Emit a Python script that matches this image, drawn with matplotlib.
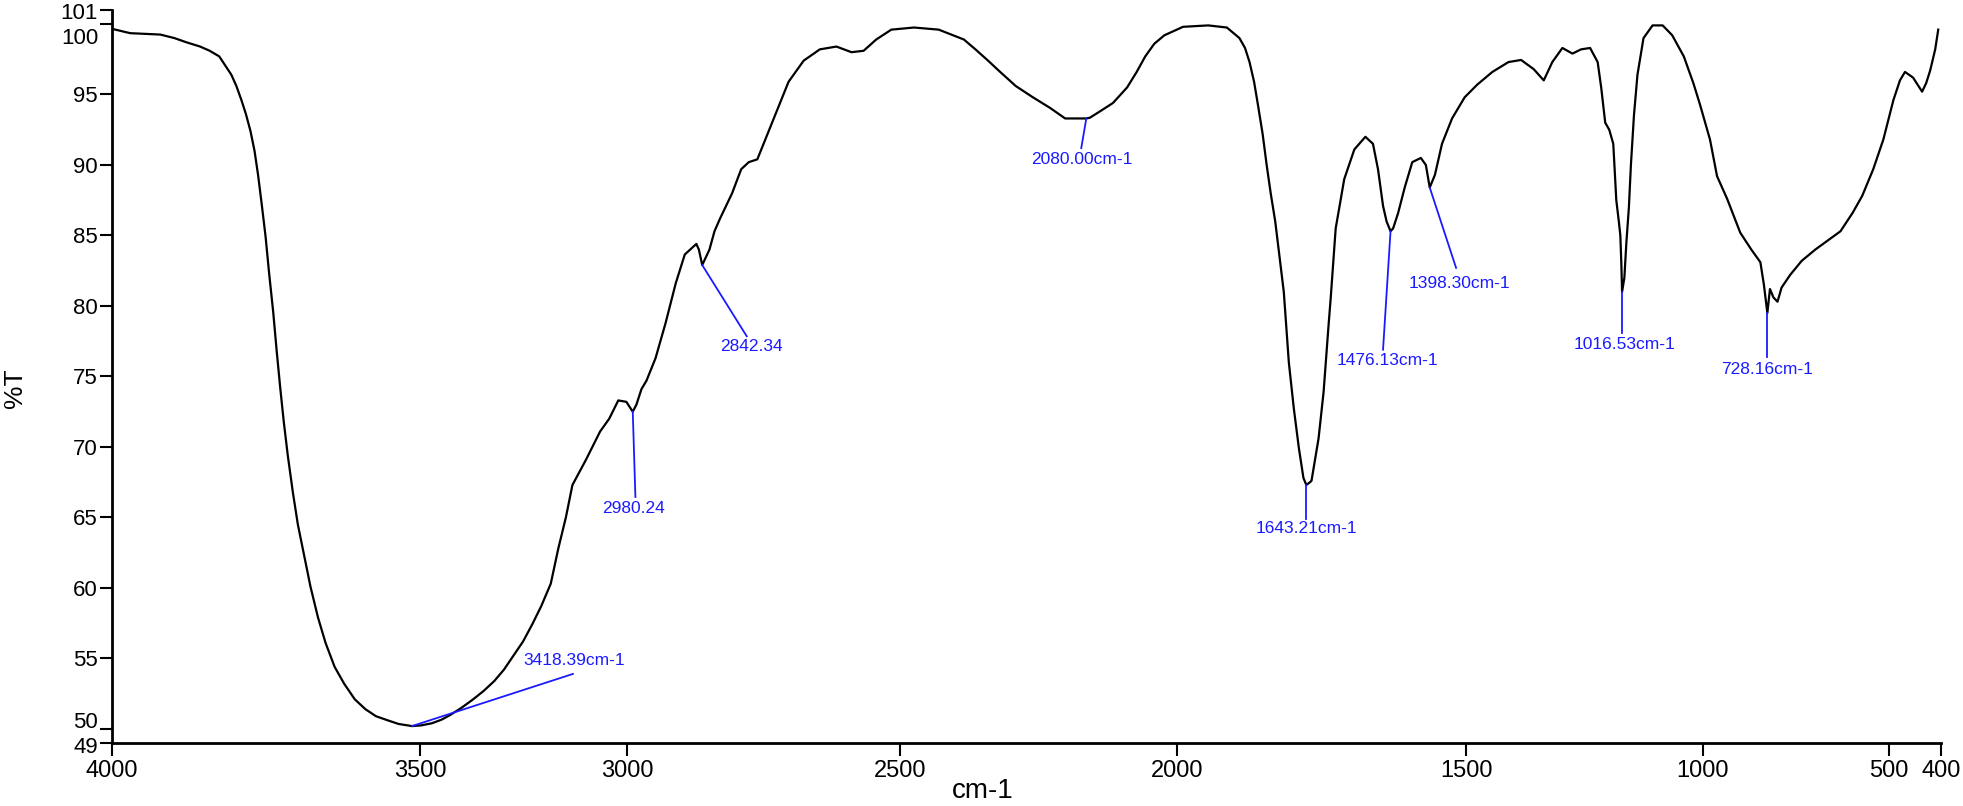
import matplotlib
matplotlib.use("Agg")
import matplotlib.pyplot as plt
import matplotlib.transforms as mtransforms

# ---------------- data ----------------
wavenumber = [4013, 3978, 3918, 3890, 3866, 3839, 3820, 3801, 3790, 3777, 3767, 3757, 3748, 3739,
              3731, 3724, 3717, 3709, 3702, 3694, 3687, 3680, 3673, 3665, 3655, 3645, 3632, 3620,
              3605, 3590, 3572, 3553, 3532, 3511, 3490, 3466, 3445, 3418.39, 3400, 3379, 3360, 3342,
              3320, 3297, 3276, 3255, 3236, 3217, 3198, 3180, 3162, 3143, 3128, 3113, 3100, 3073,
              3059, 3045, 3027, 3009, 2993, 2980.24, 2973, 2963, 2953, 2935, 2915,
              2895, 2877, 2854, 2849, 2842.34, 2828, 2818, 2807, 2783, 2765, 2750, 2733, 2715, 2696,
              2671, 2641, 2609, 2576, 2546, 2522, 2497, 2467, 2422, 2373, 2323, 2300, 2275, 2251,
              2220, 2186, 2152, 2122, 2080.00, 2073, 2053, 2027, 1999, 1980, 1963, 1945, 1925, 1888,
              1838, 1801, 1776, 1765, 1756, 1747, 1739, 1730, 1722, 1714, 1705, 1688, 1678, 1668,
              1658, 1649, 1643.21, 1636, 1633, 1619, 1609, 1599,
              1595, 1585, 1568, 1548, 1526, 1511, 1501, 1491, 1484, 1476.13, 1471, 1461, 1448, 1433,
              1416, 1406, 1398.30, 1388, 1374, 1354, 1329, 1304, 1274, 1242, 1217, 1192, 1172, 1155,
              1135, 1115, 1098, 1080, 1065, 1058, 1050, 1042, 1034, 1028, 1023, 1020, 1018, 1016.53,
              1012, 1008, 1003, 999, 993, 986, 974, 956, 936, 917, 894, 875, 862, 842, 828, 808, 782,
              760, 742, 735, 728.16, 723, 716, 708, 700, 683, 660, 633, 583, 559, 540, 518, 498, 478,
              465, 455, 447, 439, 430, 421, 413, 405, 395, 389]
transmittance = [99.65, 99.35, 99.25, 99.0, 98.7, 98.4, 98.1, 97.7, 97.1, 96.4, 95.6, 94.6, 93.6, 92.4,
                 91.0, 89.3, 87.3, 84.9, 82.3, 79.6, 76.8, 74.2, 71.8, 69.4, 66.8, 64.5, 62.2, 60.1,
                 57.9, 56.1, 54.4, 53.2, 52.1, 51.4, 50.9, 50.6, 50.35, 50.2, 50.25, 50.4, 50.65, 51.0,
                 51.5, 52.1, 52.7, 53.4, 54.2, 55.2, 56.2, 57.4, 58.7, 60.3, 62.8, 65.0, 67.3, 69.1,
                 70.1, 71.1, 72.0, 73.3, 73.2, 72.5, 73.0, 74.1, 74.7, 76.3, 78.8,
                 81.6, 83.65, 84.4, 84.0, 82.9, 84.0, 85.3, 86.2, 88.0, 89.7, 90.2, 90.4, 92.0, 93.7,
                 95.9, 97.4, 98.2, 98.4, 98.0, 98.1, 98.9, 99.6, 99.75, 99.6, 98.9, 98.2, 97.4, 96.6,
                 95.6, 94.8, 94.05, 93.3, 93.3, 93.35, 93.8, 94.4, 95.5, 96.6, 97.7, 98.6, 99.2, 99.8,
                 99.9, 99.75, 99.0, 98.3, 97.3, 95.9, 94.2, 92.2, 90.0, 88.0, 86.0, 81.0, 76.0, 72.7,
                 69.9, 67.8, 67.3, 67.5, 67.6, 70.6, 73.9, 78.7,
                 80.5, 85.5, 89.0, 91.1, 92.0, 91.5, 89.7, 87.1, 86.0, 85.3, 85.5, 86.6, 88.4, 90.2,
                 90.5, 90.0, 88.4, 89.3, 91.5, 93.3, 94.8, 95.7, 96.6, 97.3, 97.45, 96.8, 96.0, 97.3,
                 98.3, 97.9, 98.2, 98.3, 97.3, 95.5, 93.0, 92.5, 91.5, 87.5, 86.0, 85.0, 83.0, 81.0,
                 82.0, 84.5, 87.0, 90.0, 93.5, 96.4, 99.0, 99.9, 99.9, 99.2, 97.7, 95.8, 94.3, 91.8,
                 89.2, 87.6, 85.2, 84.0, 83.1, 81.5, 79.5, 81.2, 80.6, 80.3, 81.3, 82.2, 83.2, 84.0,
                 85.3, 86.6, 87.8, 89.7, 91.8, 94.6, 96.0, 96.6, 96.4, 96.2, 95.7, 95.2, 95.8, 96.7,
                 98.2, 99.6]

peak_labels = ["3418.39cm-1", "2980.24", "2842.34", "2080.00cm-1", "1643.21cm-1",
               "1476.13cm-1", "1398.30cm-1", "1016.53cm-1", "728.16cm-1"]
peak_wn = [3418.39, 2980.24, 2842.34, 2080.00, 1643.21, 1476.13, 1398.30, 1016.53, 728.16]
peak_t = [50.2, 72.5, 82.9, 93.3, 67.3, 85.3, 88.4, 81.0, 79.5]
# end of each leader line and text anchor (wavenumber, %T)
leader_end_wn = [3099, 2975, 2754, 2090, 1643.21, 1491, 1346, 1016.53, 728.16]
leader_end_t = [53.9, 66.45, 77.85, 91.2, 64.9, 76.9, 82.7, 78.1, 76.4]
text_wn = [3198, 2978, 2744, 2088, 1643.21, 1483, 1340, 1012, 728.16]
text_t = [54.85, 65.6, 77.1, 90.4, 64.2, 76.15, 81.6, 77.3, 75.5]
text_ha = ["left", "center", "center", "center", "center", "center", "center", "center", "center"]

xtick_pos = [4013.9, 3402.5, 2991.7, 2450, 1900, 1326.3, 856, 486.7, 383.5]
xtick_labels = ["4000", "3500", "3000", "2500", "2000", "1500", "1000", "500", "400"]
ytick_vals = [49, 50, 55, 60, 65, 70, 75, 80, 85, 90, 95, 100, 101]

# ---------------- figure ----------------
W, H = 1963, 806
fig = plt.figure(figsize=(W / 100, H / 100), dpi=100)
plt.rcParams['font.family'] = ['Liberation Sans', 'DejaVu Sans']
ax = fig.add_axes([112 / W, (H - 743) / H, (1941 - 112) / W, (743 - 9.9) / H])

ax.plot(wavenumber, transmittance, color='black', lw=1.6, solid_joinstyle='round')
ax.set_xlim(4013.9, 383.5)
ax.set_ylim(49, 101)

blue = '#1a1aff'
for lab, pw, pt, ew, et, tw, tt, ha in zip(peak_labels, peak_wn, peak_t, leader_end_wn,
                                            leader_end_t, text_wn, text_t, text_ha):
    ax.plot([pw, ew], [pt, et], color=blue, lw=1.3)
    ax.text(tw, tt, lab, color=blue, fontsize=12.5, ha=ha, va='center')

for s in ['top', 'right']:
    ax.spines[s].set_visible(False)
for s in ['left', 'bottom']:
    ax.spines[s].set_linewidth(2)

ax.set_xticks(xtick_pos)
ax.set_xticklabels(xtick_labels)
ax.set_yticks(ytick_vals)
ax.set_yticklabels([str(v) for v in ytick_vals])
ax.tick_params(axis='x', direction='out', length=9, width=1.5, labelsize=17, pad=3)
ax.tick_params(axis='y', direction='out', length=9, width=1.5, labelsize=16, pad=1)

# nudge crowded y labels like the reference
offsets = {100: -0.125, 101: -0.015, 50: 0.09, 49: -0.02}
for lbl, v in zip(ax.get_yticklabels(), ytick_vals):
    if v in offsets:
        lbl.set_transform(lbl.get_transform() +
                          mtransforms.ScaledTranslation(0, offsets[v], fig.dpi_scale_trans))

fig.text(983 / W, 1 - 791 / H, "cm-1", fontsize=20, ha='center', va='center')
fig.text(15 / W, 1 - 388 / H, "%T", fontsize=19, ha='center', va='center', rotation=90)

fig.savefig("out.png", dpi=100)
